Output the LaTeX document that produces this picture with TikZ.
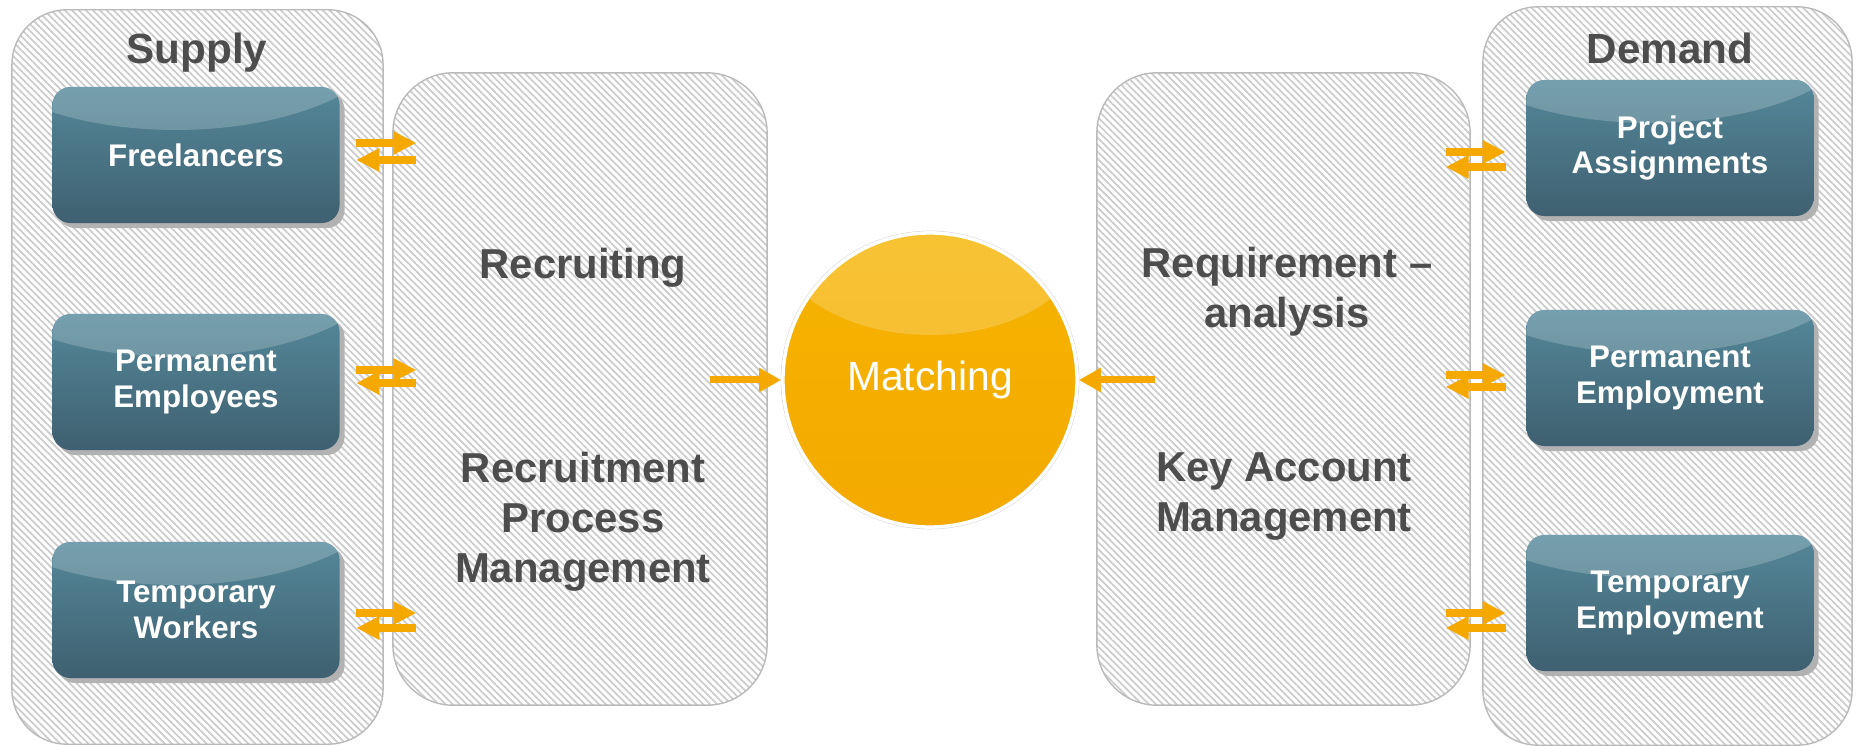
\documentclass[tikz,border=0pt]{standalone}
\usepackage{fontspec}
\setmainfont{Liberation Sans}
\usetikzlibrary{positioning,arrows.meta,patterns.meta,shadows}

\definecolor{boxtop}{RGB}{84,136,154}
\definecolor{boxbot}{RGB}{63,96,112}
\definecolor{hubtop}{RGB}{245,180,0}
\definecolor{hubbot}{RGB}{244,169,0}
\definecolor{flowcol}{RGB}{245,168,0}
\definecolor{txtgray}{RGB}{77,77,77}

\begin{document}
\begin{tikzpicture}[x=0.01cm, y=-0.01cm,
  container/.style = {shape=rectangle, rounded corners=0.55cm,
    draw=black!27, line width=0.4pt,
    pattern={Lines[angle=-45,distance=1.4pt,line width=0.5pt]}, pattern color=black!20},
  rolebox/.style = {shape=rectangle, rounded corners=0.18cm,
    minimum width=2.87cm, minimum height=1.36cm, align=center,
    top color=boxtop, bottom color=boxbot, text=white,
    font=\fontsize{8.9}{10.2}\selectfont\bfseries,
    drop shadow={shadow xshift=0.05cm, shadow yshift=-0.05cm, fill=black!30, opacity=1},
    path picture={\fill[white, opacity=0.2]
      ([xshift=-0.2cm, yshift=0.6cm]path picture bounding box.north)
      ellipse [x radius=2.2cm, y radius=1.03cm];}},
  hub/.style = {shape=circle, minimum size=2.94cm, draw=white, line width=1pt,
    top color=hubtop, bottom color=hubbot, text=white,
    font=\fontsize{11.6}{14}\selectfont,
    drop shadow={shadow xshift=0cm, shadow yshift=0cm, shadow scale=1.015, fill=black!18, opacity=1},
    path picture={\fill[white, opacity=0.2]
      ([yshift=1.47cm]path picture bounding box.center)
      ellipse [x radius=1.58cm, y radius=1.02cm];}},
  heading/.style = {text=txtgray, font=\fontsize{12}{14}\selectfont\bfseries},
  activity/.style = {text=txtgray, align=center, font=\fontsize{11.9}{14.2}\selectfont\bfseries},
  flow/.style = {draw=flowcol, line width=0.08cm, -{Triangle[length=0.23cm, width=0.22cm]}},
  hubflow/.style = {draw=flowcol, line width=0.07cm, -{Triangle[length=0.22cm, width=0.23cm]}}
  ]
  \useasboundingbox (0,0) rectangle (1856,746);

  % the four panels
  \node[container, minimum width=3.71cm, minimum height=7.34cm] (supply) at (197.5,377) {};
  \node[container, rounded corners=0.6cm, minimum width=3.74cm, minimum height=6.32cm] (recr) at (580,389) {};
  \node[container, rounded corners=0.6cm, minimum width=3.73cm, minimum height=6.32cm] (reqm) at (1283.5,389) {};
  \node[container, minimum width=3.69cm, minimum height=7.38cm] (demand) at (1667.5,376) {};

  \node[heading, anchor=base] (supplytitle) at (197,64) {Supply};
  \node[heading, anchor=base] (demandtitle) at (1670,64) {Demand};

  % supply side
  \node[rolebox] (free) at (196,155) {Freelancers};
  \node[rolebox] (perm) at (196,382) {Permanent\\Employees};
  \node[rolebox] (temp) at (196,610) {Temporary\\Workers};

  % demand side
  \node[rolebox] (proj) at (1670,148) {Project\\Assignments};
  \node[rolebox] (pemp) at (1670,378) {Permanent\\Employment};
  \node[rolebox] (temp2) at (1670,603) {Temporary\\Employment};

  % activities
  \node[activity, anchor=base] (recruiting) at (583,279) {Recruiting};
  \node[activity] (rpm) at (583,522) {Recruitment\\Process\\Management};
  \node[activity] (reqan) at (1287,292) {Requirement --\\analysis};
  \node[activity] (kam) at (1284,497) {Key Account\\Management};

  \node[hub] (match) at (930,380) {Matching};

  \foreach \n/\a/\b in {free/0.12/-0.05, perm/0.12/-0.01, temp/-0.03/-0.18} {
    \draw[flow] ([xshift=0.16cm, yshift=\a cm]\n.east) -- ++(0.6cm,0);
    \draw[flow] ([xshift=0.76cm, yshift=\b cm]\n.east) -- ++(-0.6cm,0);
  }
  \foreach \n/\a/\b in {proj/-0.04/-0.19, pemp/0.03/-0.09, temp2/-0.10/-0.25} {
    \draw[flow] ([xshift=-0.80cm, yshift=\a cm]\n.west) -- ++(0.6cm,0);
    \draw[flow] ([xshift=-0.20cm, yshift=\b cm]\n.west) -- ++(-0.6cm,0);
  }

  \draw[hubflow] ([xshift=-0.71cm]match.west) -- (match.west);
  \draw[hubflow] ([xshift=0.76cm]match.east) -- (match.east);
\end{tikzpicture}
\end{document}
